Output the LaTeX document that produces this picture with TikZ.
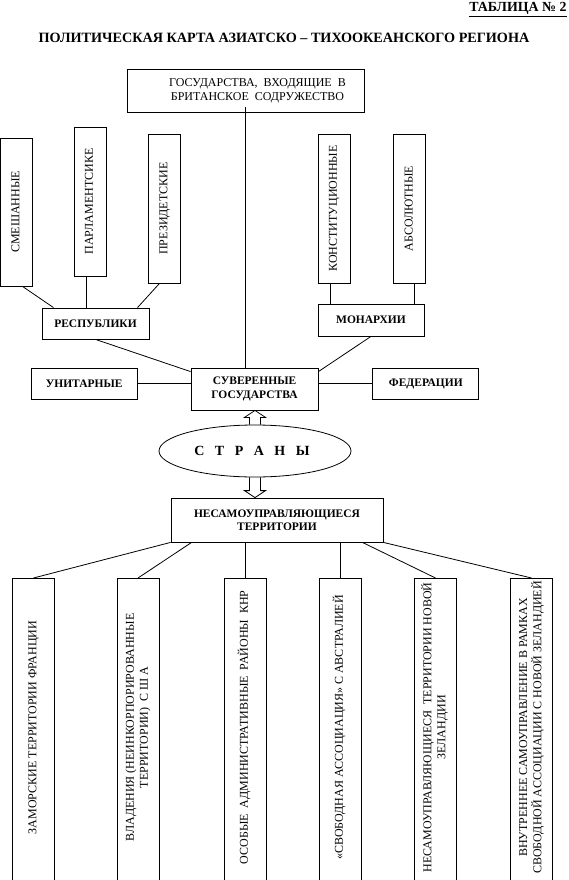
\documentclass[tikz,border=0pt]{standalone}
\usepackage{fontspec}
\usepackage{graphicx}
\setmainfont{Liberation Serif}
\usetikzlibrary{positioning,shapes.geometric,calc}

\newcommand{\vlab}[2][0pt]{\rotatebox{90}{\hspace*{#1}\begin{tabular}{@{}c@{}}#2\end{tabular}}}

\begin{document}
\begin{tikzpicture}[
  x=1pt, y=-1pt, line width=0.8pt,
  box/.style={draw, inner sep=2pt, align=center, font=\fontsize{12}{14}\selectfont},
  head/.style={box, font=\bfseries\fontsize{11.5}{14}\selectfont, minimum width=106pt, minimum height=31pt},
  tall/.style={box, minimum width=32pt, minimum height=149pt},
  low/.style={box, anchor=north, minimum width=42pt, minimum height=312pt},
  line/.style={line width=0.8pt}
]
\path[use as bounding box, clip] (0,0) rectangle (568,880);

% titles
\node[anchor=north east, inner sep=0pt, font=\bfseries\fontsize{13.9}{16}\selectfont] (tabl) at (567,2) {\underline{ТАБЛИЦА №~2}};
\node[font=\bfseries\fontsize{14.2}{16}\selectfont] (title) at (284,38) {ПОЛИТИЧЕСКАЯ КАРТА АЗИАТСКО – ТИХООКЕАНСКОГО РЕГИОНА};

% upper part
\node[box, minimum width=237pt, minimum height=43pt] (brit) at (245.5,90.5)
  {\hspace*{24pt}ГОСУДАРСТВА,\ \ ВХОДЯЩИЕ\ \ В\\\hspace*{24pt}БРИТАНСКОЕ\ \ СОДРУЖЕСТВО};
\node[tall, minimum height=148pt] (smesh) at (16.5,212) {\vlab{СМЕШАННЫЕ}};
\node[tall] (parl) at (90,201.5) {\vlab{ПАРЛАМЕНТСИКЕ}};
\node[tall] (prez) at (164.5,208.5) {\vlab{ПРЕЗИДЕТСКИЕ}};
\node[tall] (konst) at (334,208.5) {\vlab{КОНСТИТУЦИОННЫЕ}};
\node[tall, right=43pt of konst] (absol) {\vlab{АБСОЛЮТНЫЕ}};
\node[head, minimum width=107pt] (resp) at (95.5,323.5) {РЕСПУБЛИКИ};
\node[head, minimum height=32pt] (monarch) at (371,320) {МОНАРХИИ};
\node[head, minimum width=127pt, minimum height=42pt] (sov) at (254.5,389) {СУВЕРЕННЫЕ\\ГОСУДАРСТВА};
\node[head, left=53pt of sov, yshift=5.5pt] (unit) {УНИТАРНЫЕ};
\node[head, right=54pt of sov, yshift=5.5pt] (fed) {ФЕДЕРАЦИИ};

% countries
\node[draw, ellipse, minimum width=192pt, minimum height=52pt, inner sep=0pt,
  font=\bfseries\fontsize{14}{16}\selectfont] (strany) at (255,451) {С~~~Т~~~Р~~~А~~~Н~~~Ы\hspace*{6pt}};
\node[box, font=\bfseries\fontsize{11.5}{13.5}\selectfont, minimum width=212pt, minimum height=44pt] (nesam) at (277,520) {НЕСАМОУПРАВЛЯЮЩИЕСЯ\\ТЕРРИТОРИИ};

% lower part
\node[low] (b1) at (33.5,578) {\vlab[14pt]{ЗАМОРСКИЕ ТЕРРИТОРИИ ФРАНЦИИ}};
\node[low] (b2) at (138,578) {\vlab[14pt]{ВЛАДЕНИЯ (НЕИНКОРПОРИРОВАННЫЕ\\ТЕРРИТОРИИ)\ \ С Ш А}};
\node[low] (b3) at (245,578) {\vlab[14pt]{ОСОБЫЕ\ \ АДМИНИСТРАТИВНЫЕ\ \ РАЙОНЫ\ \ КНР}};
\node[low] (b4) at (340,578) {\vlab[14pt]{«СВОБОДНАЯ АССОЦИАЦИЯ» С АВСТРАЛИЕЙ}};
\node[low] (b5) at (435.5,578) {\vlab[14pt]{НЕСАМОУПРАВЛЯЮЩИЕСЯ\ \ ТЕРРИТОРИИ НОВОЙ\\ЗЕЛАНДИИ}};
\node[low] (b6) at (531.5,578) {\vlab[14pt]{ВНУТРЕННЕЕ САМОУПРАВЛЕНИЕ В РАМКАХ\\СВОБОДНОЙ АССОЦИАЦИИ С НОВОЙ ЗЕЛАНДИЕЙ}};

% connectors
\draw[line] ([yshift=5pt]brit.south) -- (brit.south |- sov.north);
\draw[line] ([xshift=6pt]smesh.south) -- ([xshift=-42pt]resp.north);
\draw[line] ([xshift=-4pt]parl.south) -- ([xshift=-4pt]parl.south |- resp.north);
\draw[line] ([xshift=-5pt]prez.south) -- ([xshift=42pt]resp.north);
\draw[line] ([xshift=-4pt]konst.south) -- ([xshift=-4pt]konst.south |- monarch.north);
\draw[line] ([xshift=5pt]absol.south) -- ([xshift=5pt]absol.south |- monarch.north);
\draw[line] (resp.south) -- ([yshift=-4pt]sov.north west);
\draw[line] (monarch.south) -- ([yshift=-4pt]sov.north east);
\draw[line] (unit.east) -- (unit.east -| sov.west);
\draw[line] (fed.west) -- (fed.west -| sov.east);
\draw[line] let \p1=(strany.north), \p2=(sov.south) in
  (\x1-5.5pt,\y1) -- (\x1-5.5pt,\y2-7pt) -- (\x1-10.5pt,\y2-7pt) -- (\x1,\y2)
  -- (\x1+10.5pt,\y2-7pt) -- (\x1+5.5pt,\y2-7pt) -- (\x1+5.5pt,\y1);
\draw[line] let \p1=(strany.south), \p2=(nesam.north) in
  (\x1-5.5pt,\y1) -- (\x1-5.5pt,\y2+7pt) -- (\x1-10.5pt,\y2+7pt) -- (\x1,\y2)
  -- (\x1+10.5pt,\y2+7pt) -- (\x1+5.5pt,\y2+7pt) -- (\x1+5.5pt,\y1);
\draw[line] (nesam.south west) -- (b1.north);
\draw[line] ([xshift=21pt]nesam.south west) -- (b2.north);
\draw[line] (b3.north |- nesam.south) -- (b3.north);
\draw[line] (b4.north |- nesam.south) -- (b4.north);
\draw[line] ([xshift=-21pt]nesam.south east) -- (b5.north);
\draw[line] (nesam.south east) -- (b6.north);
\end{tikzpicture}
\end{document}
